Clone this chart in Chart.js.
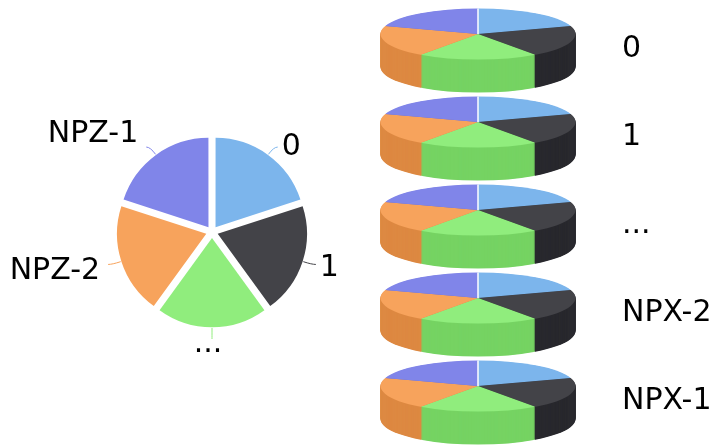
<!DOCTYPE html>
<html>
<head>
<meta charset="utf-8">
<script src="https://cdn.jsdelivr.net/npm/chart.js@4.4.1/dist/chart.umd.min.js"></script>
<style>
  html, body { margin: 0; padding: 0; background: #fff; }
  #wrap { position: relative; width: 712px; height: 445px; overflow: hidden; }
  #wrap canvas { position: absolute; }
</style>
</head>
<body>
<div id="wrap">
  <canvas id="mainPie" width="420" height="445" style="left:0;top:0"></canvas>
</div>
<script>
const pieLabels = ["0", "1", "...", "NPZ-2", "NPZ-1"];
const pieValues = [20, 20, 20, 20, 20];
const stackLabels = ["0", "1", "...", "NPX-2", "NPX-1"];
const stackValues = [20, 20, 20, 20, 20];
const colors = ["#7cb5ec", "#434348", "#90ed7d", "#f7a35c", "#8085e9"];
const sideColors = ["#629bd2", "#29292e", "#76d363", "#dd8942", "#666bcf"]; // top colour darkened ~10%

const labelFont = "30px 'DejaVu Sans'";

// outside labels with a short curved connector per slice
const sliceLabels = {
  id: "sliceLabels",
  afterDatasetsDraw(chart, args, opts) {
    const ctx = chart.ctx;
    const arcs = chart.getDatasetMeta(0).data;
    ctx.save();
    ctx.font = labelFont;
    arcs.forEach((arc, i) => {
      const mid = (arc.startAngle + arc.endAngle) / 2;
      const dx = Math.cos(mid), dy = Math.sin(mid);
      // ArcElement moves a slice out by a quarter of its offset
      const r = arc.outerRadius + arc.options.offset / 4;
      const x0 = arc.x + dx * (r + 1), y0 = arc.y + dy * (r + 1);
      const x1 = arc.x + dx * (r + 10), y1 = arc.y + dy * (r + 10);
      const side = Math.abs(dx) < 0.2 ? 0 : Math.sign(dx);
      const x2 = x1 + side * 4, y2 = side ? y1 : y1 + 2;
      ctx.strokeStyle = colors[i];
      ctx.lineWidth = 1;
      ctx.beginPath();
      ctx.moveTo(x0, y0);
      ctx.quadraticCurveTo(x1, y1, x2, y2);
      ctx.stroke();
      const [sx, sy] = opts.shift[i];
      ctx.fillStyle = "#000";
      ctx.textAlign = side > 0 ? "left" : side < 0 ? "right" : "center";
      ctx.textBaseline = "middle";
      ctx.fillText(pieLabels[i], x2 + side * 4 + sx, (side ? y2 : y2 + 8) + sy);
    });
    ctx.restore();
  }
};

// squashes the pie into an ellipse and stacks darker copies underneath for the wall
const tiltedPie = {
  id: "tiltedPie",
  beforeDatasetsDraw(chart, args, opts) {
    const ctx = chart.ctx;
    const arcs = chart.getDatasetMeta(0).data;
    const cx = arcs[0].x, cy = arcs[0].y;
    ctx.save();
    ctx.translate(0, opts.centerY);
    ctx.scale(1, opts.tilt);
    ctx.translate(0, -cy);
    for (let d = opts.depth; d > 0; d -= 0.5) {
      const off = d / opts.tilt;
      arcs.forEach((arc, i) => {
        ctx.beginPath();
        ctx.moveTo(cx, cy + off);
        ctx.arc(cx, cy + off, arc.outerRadius, arc.startAngle, arc.endAngle);
        ctx.closePath();
        ctx.fillStyle = sideColors[i];
        ctx.fill();
      });
    }
  },
  afterDatasetsDraw(chart, args, opts) {
    const ctx = chart.ctx;
    const a = chart.getDatasetMeta(0).data[0];
    ctx.strokeStyle = "#fff";
    ctx.lineWidth = 1.5;
    ctx.beginPath();
    ctx.moveTo(a.x, a.y);
    ctx.lineTo(a.x + Math.cos(a.startAngle) * a.outerRadius, a.y + Math.sin(a.startAngle) * a.outerRadius);
    ctx.stroke();
    ctx.restore();

    ctx.save();
    ctx.font = labelFont;
    ctx.fillStyle = "#000";
    ctx.textAlign = "left";
    ctx.textBaseline = "middle";
    ctx.fillText(opts.text, opts.textX, opts.centerY + 15);
    ctx.restore();
  }
};

new Chart(document.getElementById("mainPie"), {
  type: "pie",
  data: {
    labels: pieLabels,
    datasets: [{
      data: pieValues,
      backgroundColor: colors,
      borderWidth: 0,
      offset: 24,
      hoverOffset: 0
    }]
  },
  options: {
    responsive: false,
    animation: false,
    events: [],
    layout: { padding: { left: 111, right: 107, top: 131, bottom: 112 } },
    plugins: {
      legend: { display: false },
      tooltip: { enabled: false },
      sliceLabels: { shift: [[0, 0], [0, 4], [-4, -3], [-4, 7], [-4, -13]] }
    }
  },
  plugins: [sliceLabels]
});

const wrap = document.getElementById("wrap");
const stackTop = 34, stackGap = 88;

stackLabels.forEach((label, i) => {
  const cv = document.createElement("canvas");
  cv.width = 352;
  cv.height = 200;
  cv.style.left = "360px";
  cv.style.top = (stackTop + stackGap * i - 40) + "px";
  wrap.appendChild(cv);

  new Chart(cv, {
    type: "pie",
    data: {
      labels: pieLabels,
      datasets: [{
        data: stackValues,
        backgroundColor: colors,
        borderWidth: 0,
        hoverOffset: 0,
        clip: false
      }]
    },
    options: {
      responsive: false,
      animation: false,
      events: [],
      layout: { padding: { left: 20.5, right: 136.5, top: 2.5, bottom: 2.5 } },
      plugins: {
        legend: { display: false },
        tooltip: { enabled: false },
        tiltedPie: { centerY: 40, tilt: 0.2615, depth: 33, text: label, textX: 262 }
      }
    },
    plugins: [tiltedPie]
  });
});
</script>
</body>
</html>
